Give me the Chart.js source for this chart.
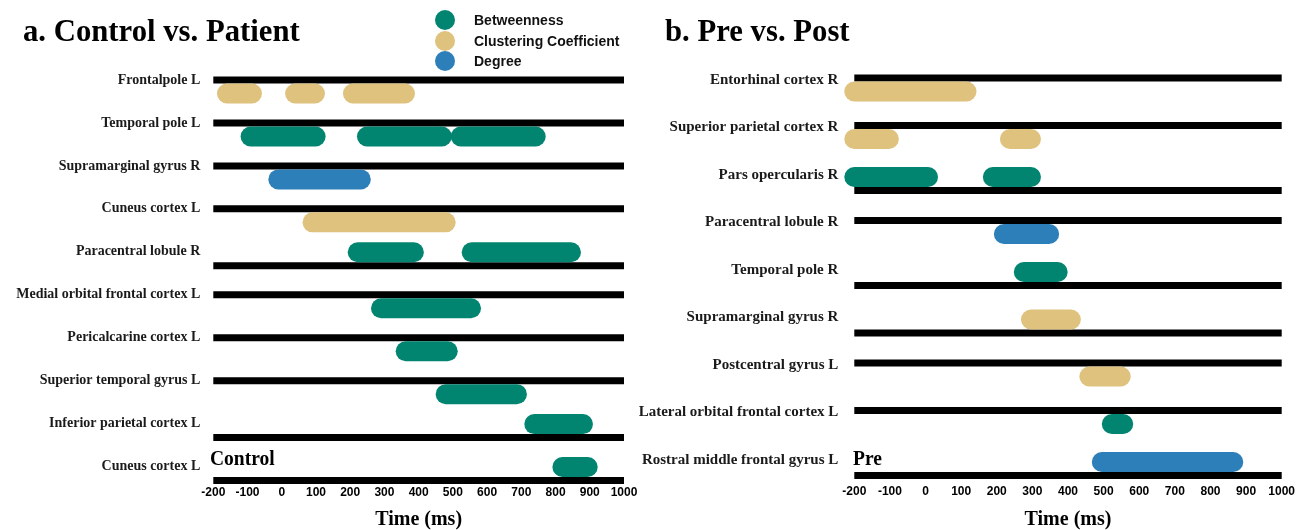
<!DOCTYPE html>
<html>
<head>
<meta charset="utf-8">
<script src="https://cdn.jsdelivr.net/npm/chart.js@4/dist/chart.umd.min.js"></script>
<style>
  html, body { margin: 0; padding: 0; background: #fff; }
  body { position: relative; width: 1308px; height: 530px; overflow: hidden; }
  canvas { position: absolute; top: 0; }
  #panelA { left: 0; }
  #panelB { left: 620px; }
  .title { position: absolute; top: 14px; font: bold 32px 'Liberation Serif', serif; line-height: 32px;
           color: #000; white-space: nowrap; transform: scaleX(0.96); transform-origin: left top; }
  .tag { position: absolute; top: 448px; font: bold 21px 'Liberation Serif', serif; line-height: 21px;
         color: #000; white-space: nowrap; transform: scaleX(0.93); transform-origin: left top; }
  #legend { position: absolute; left: 435px; top: 10px; }
  .item { display: flex; align-items: center; height: 20.5px; }
  .dot { width: 20px; height: 20px; border-radius: 50%; margin-right: 19px; }
  .item span { font: bold 14px 'Liberation Sans', Arial, sans-serif; color: #111; }
</style>
</head>
<body>
<canvas id="panelA" width="640" height="530"></canvas>
<canvas id="panelB" width="688" height="530"></canvas>
<div class="title" style="left:23px">a. Control vs. Patient</div>
<div class="title" style="left:665px">b. Pre vs. Post</div>
<div class="tag" style="left:210px">Control</div>
<div class="tag" style="left:853px">Pre</div>
<div id="legend"></div>
<script>
// Time axis (ms)
const timeMin = -200;
const timeMax = 1000;
const timeStep = 100;

const seriesNames = ['Betweenness', 'Clustering Coefficient', 'Degree'];

// a. Control vs. Patient — significant windows [start, end] in ms, one list per region
const controlRegions = [
  'Frontalpole L', 'Temporal pole L', 'Supramarginal gyrus R', 'Cuneus cortex L',
  'Paracentral lobule R', 'Medial orbital frontal cortex L', 'Pericalcarine cortex L',
  'Superior temporal gyrus L', 'Inferior parietal cortex L', 'Cuneus cortex L'
];
const controlBetweenness = [
  [], [[-91, 99], [249, 468], [523, 742]], [], [],
  [[222, 386], [555, 845]], [[290, 553]], [[362, 485]],
  [[479, 687]], [[738, 880]], [[820, 894]]
];
const controlClustering = [
  [[-160, -87], [39, 97], [208, 360]], [], [], [[90, 479]],
  [], [], [], [], [], []
];
const controlDegree = [
  [], [], [[-10, 231]], [], [], [], [], [], [], []
];

// b. Pre vs. Post
const prePostRegions = [
  'Entorhinal cortex R', 'Superior parietal cortex R', 'Pars opercularis R',
  'Paracentral lobule R', 'Temporal pole R', 'Supramarginal gyrus R',
  'Postcentral gyrus L', 'Lateral orbital frontal cortex L', 'Rostral middle frontal gyrus L'
];
const prePostBetweenness = [
  [], [], [[-200, 7], [189, 296]], [], [[276, 371]], [], [], [[523, 555]], []
];
const prePostClustering = [
  [[-200, 115]], [[-200, -103], [237, 296]], [], [], [], [[296, 408]], [[460, 548]], [], []
];
const prePostDegree = [
  [], [], [], [[220, 347]], [], [], [], [], [[495, 864]]
];

const palette = ['#018571', '#dfc27d', '#2c7fb8'];

// legend
const legend = document.getElementById('legend');
seriesNames.forEach((name, k) => {
  const row = document.createElement('div');
  row.className = 'item';
  const dot = document.createElement('div');
  dot.className = 'dot';
  dot.style.background = palette[k];
  const label = document.createElement('span');
  label.textContent = name;
  row.appendChild(dot);
  row.appendChild(label);
  legend.appendChild(row);
});

const BAR_W = 20;   // pill thickness (px)
const RULE_W = 7;   // separator rule thickness (px)

function makePanel(canvasId, regions, series, g) {
  const canvas = document.getElementById(canvasId);
  const W = canvas.width, H = canvas.height;
  const rowPx = g.rowPx;
  const yMin = -(g.firstRowPx - g.top) / rowPx;
  const yMax = yMin + (g.bottom - g.top) / rowPx;
  const gap = (BAR_W + RULE_W) / 2 / rowPx;

  const ruleY = i => g.ruleBelow.includes(i) ? i + g.shiftBelow / rowPx + gap : i + g.shiftAbove / rowPx;
  const barY = i => g.ruleBelow.includes(i) ? i + g.shiftBelow / rowPx : i + g.shiftAbove / rowPx + gap;

  const datasets = [];
  series.forEach((values, k) => {
    values.forEach((segs, i) => {
      segs.forEach(([a, b]) => {
        datasets.push({
          data: [{ x: a, y: barY(i) }, { x: b, y: barY(i) }],
          borderColor: palette[k], borderWidth: BAR_W, borderCapStyle: 'round',
          pointRadius: 0, clip: false, order: 1
        });
      });
    });
  });
  regions.forEach((_, i) => {
    datasets.push({
      data: [{ x: timeMin, y: ruleY(i) }, { x: timeMax, y: ruleY(i) }],
      borderColor: '#000', borderWidth: RULE_W, borderCapStyle: 'butt',
      pointRadius: 0, clip: false, order: 2
    });
  });

  return new Chart(canvas, {
    type: 'line',
    data: { datasets },
    options: {
      responsive: false,
      animation: false,
      events: [],
      devicePixelRatio: 1,
      layout: { padding: { top: g.top, right: W - g.right, left: 0, bottom: 0 } },
      plugins: { legend: { display: false }, tooltip: { enabled: false } },
      scales: {
        x: {
          type: 'linear', position: 'bottom', min: timeMin, max: timeMax,
          afterFit: s => { s.height = H - g.bottom; },
          ticks: {
            stepSize: timeStep, autoSkip: false, maxRotation: 0, padding: g.tickPad, color: '#000',
            callback: v => String(v),
            font: { family: "'Liberation Sans', Arial, sans-serif", weight: 'bold', size: 12 }
          },
          grid: { display: false, drawTicks: false },
          border: { display: false },
          title: {
            display: true, text: 'Time (ms)', color: '#000', padding: { top: 0, bottom: 0 },
            font: { family: "'Liberation Serif', serif", weight: 'bold', size: 20, lineHeight: 1 }
          }
        },
        y: {
          type: 'linear', reverse: true, min: yMin, max: yMax,
          afterFit: s => { s.width = g.left; },
          afterBuildTicks: s => { s.ticks = regions.map((_, i) => ({ value: i })); },
          ticks: {
            autoSkip: false, padding: g.labelPad, color: '#1a1a1a',
            callback: v => regions[v],
            font: { family: "'Liberation Serif', serif", weight: 'bold', size: g.labelSize }
          },
          grid: { display: false, drawTicks: false },
          border: { display: false }
        }
      }
    }
  });
}

makePanel('panelA', controlRegions, [controlBetweenness, controlClustering, controlDegree], {
  left: 213.3, right: 624, top: 66, bottom: 484,
  firstRowPx: 80, rowPx: 42.95, shiftAbove: 0, shiftBelow: 0.5,
  ruleBelow: [4, 8, 9], labelPad: 13, labelSize: 14, tickPad: 1
});

makePanel('panelB', prePostRegions, [prePostBetweenness, prePostClustering, prePostDegree], {
  left: 234.3, right: 661.7, top: 66, bottom: 480,
  firstRowPx: 80, rowPx: 47.5, shiftAbove: -2, shiftBelow: 2,
  ruleBelow: [2, 4, 5, 8], labelPad: 16, labelSize: 15, tickPad: 4
});
</script>
</body>
</html>
